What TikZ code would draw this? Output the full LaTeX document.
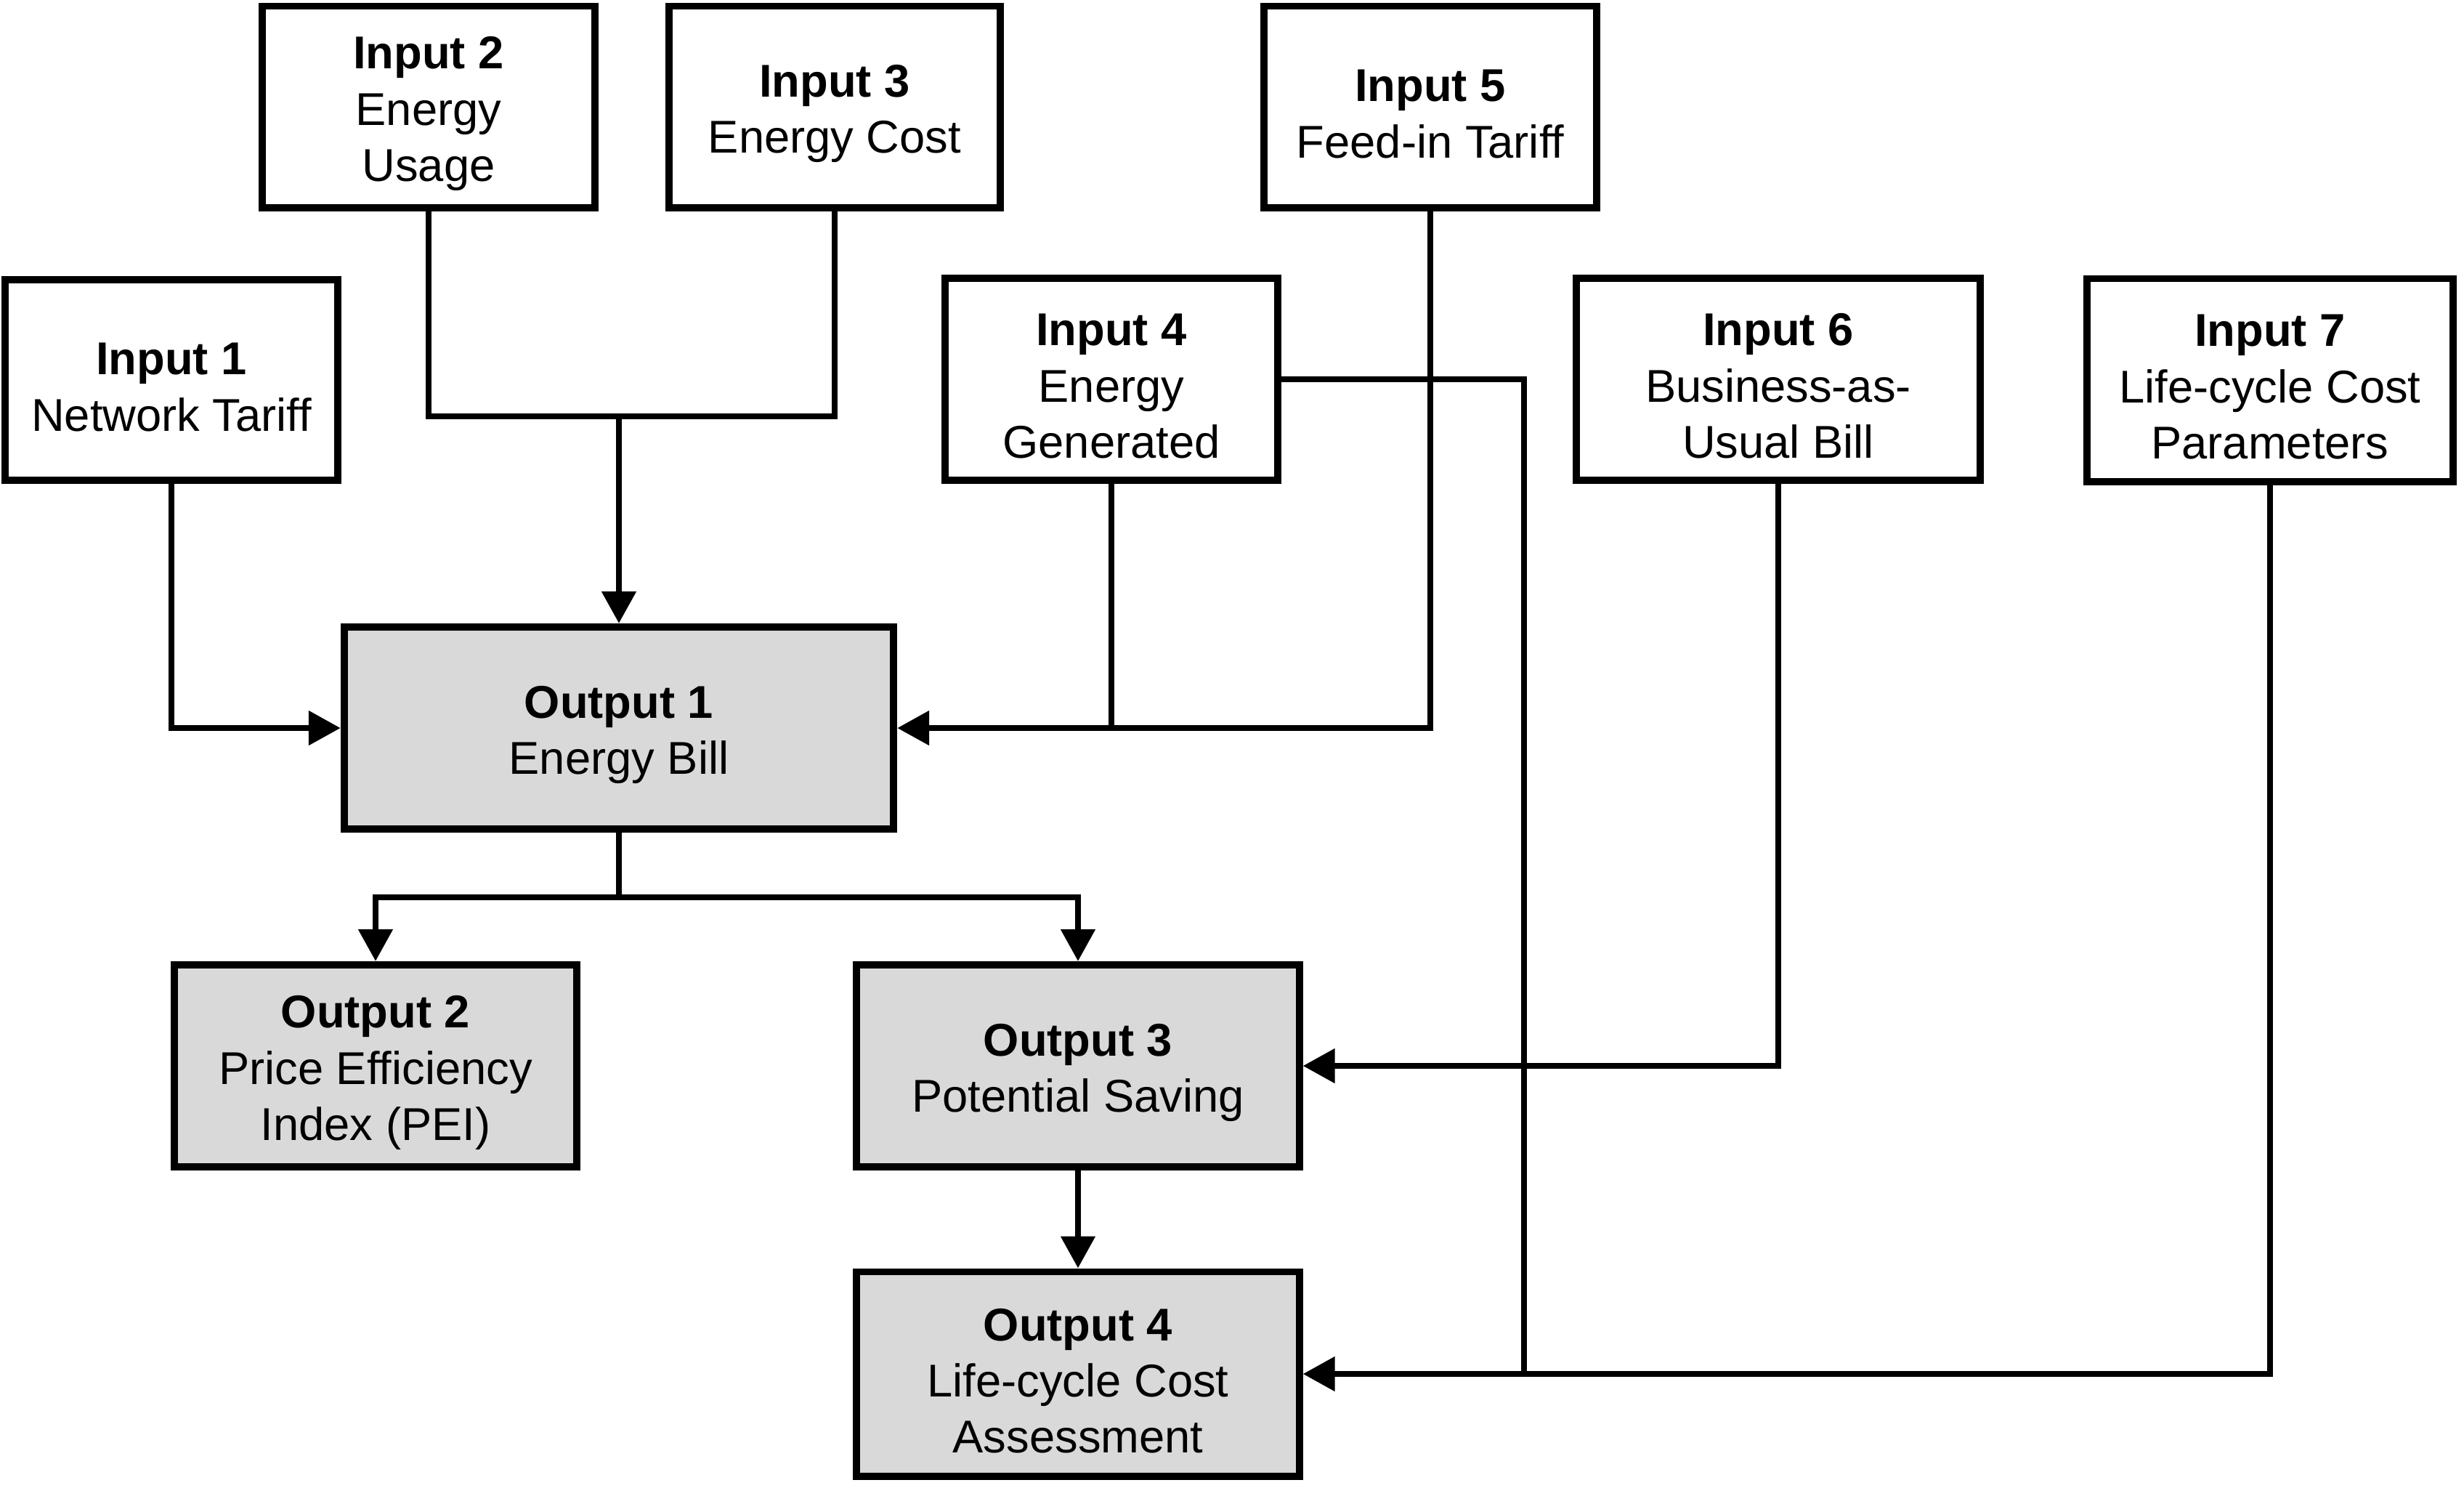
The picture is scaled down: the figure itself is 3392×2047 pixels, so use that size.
\documentclass[tikz,border=0pt]{standalone}
\usepackage{fontspec}
\setmainfont{Liberation Sans}
\usetikzlibrary{arrows.meta}
\definecolor{boxgray}{RGB}{217,217,217}
\newcommand{\hd}[1]{\rule{0pt}{18pt}\textbf{#1}}
\begin{document}
\begin{tikzpicture}[x=0.01cm,y=-0.01cm,
  inbox/.style={draw, line width=2.8pt, fill=white, align=center, inner sep=0pt,
    font=\fontsize{18}{22}\selectfont},
  outbox/.style={inbox, fill=boxgray},
  conn/.style={line width=2.5pt},
  arr/.style={conn, -{Triangle[length=12.5pt,width=13pt]}}]
\useasboundingbox (0,0) rectangle (3392,2047);
\node[inbox, minimum width=4.58cm, minimum height=2.76cm] (i1) at (236,523) {\hd{Input 1}\\Network Tariff};
\node[inbox, minimum width=4.58cm, minimum height=2.77cm] (i2) at (590,147) {\hd{Input 2}\\Energy\\Usage};
\node[inbox, minimum width=4.56cm, minimum height=2.77cm] (i3) at (1149,147) {\hd{Input 3}\\Energy Cost};
\node[inbox, minimum width=4.58cm, minimum height=2.78cm] (i4) at (1530,522) {\hd{Input 4}\\Energy\\Generated};
\node[inbox, minimum width=4.58cm, minimum height=2.77cm] (i5) at (1969,147) {\hd{Input 5}\\Feed-in Tariff};
\node[inbox, minimum width=5.55cm, minimum height=2.78cm] (i6) at (2448,522) {\hd{Input 6}\\Business-as-\\Usual Bill};
\node[inbox, minimum width=5.03cm, minimum height=2.79cm] (i7) at (3125,523) {\hd{Input 7}\\Life-cycle Cost\\Parameters};
\node[outbox, minimum width=7.56cm, minimum height=2.78cm] (o1) at (852,1002) {\hd{Output 1}\\Energy Bill};
\node[outbox, minimum width=5.53cm, minimum height=2.78cm] (o2) at (517,1467) {\hd{Output 2}\\Price Efficiency\\Index (PEI)};
\node[outbox, minimum width=6.09cm, minimum height=2.78cm] (o3) at (1484,1467) {\hd{Output 3}\\Potential Saving};
\node[outbox, minimum width=6.09cm, minimum height=2.81cm] (o4) at (1484,1891) {\hd{Output 4}\\Life-cycle Cost\\Assessment};
\coordinate (j23) at (852,573);
\coordinate (j4) at (2098,1891);
\coordinate (j1) at (852,1235);
\draw[arr] (i1.south) |- (o1.west);
\draw[conn] (i2.south) |- (j23) -| (i3.south);
\draw[arr] (j23) -- (o1.north);
\draw[arr] (i5.south) |- (o1.east);
\draw[conn] (i4.south) -- (i4.south |- o1.east);
\draw[conn] (i4.east) -| (j4);
\draw[arr] (i7.south) |- (o4.east);
\draw[arr] (i6.south) |- (o3.east);
\draw[conn] (o1.south) -- (j1);
\draw[arr] (j1) -| (o2.north);
\draw[arr] (j1) -| (o3.north);
\draw[arr] (o3.south) -- (o4.north);
\end{tikzpicture}
\end{document}
